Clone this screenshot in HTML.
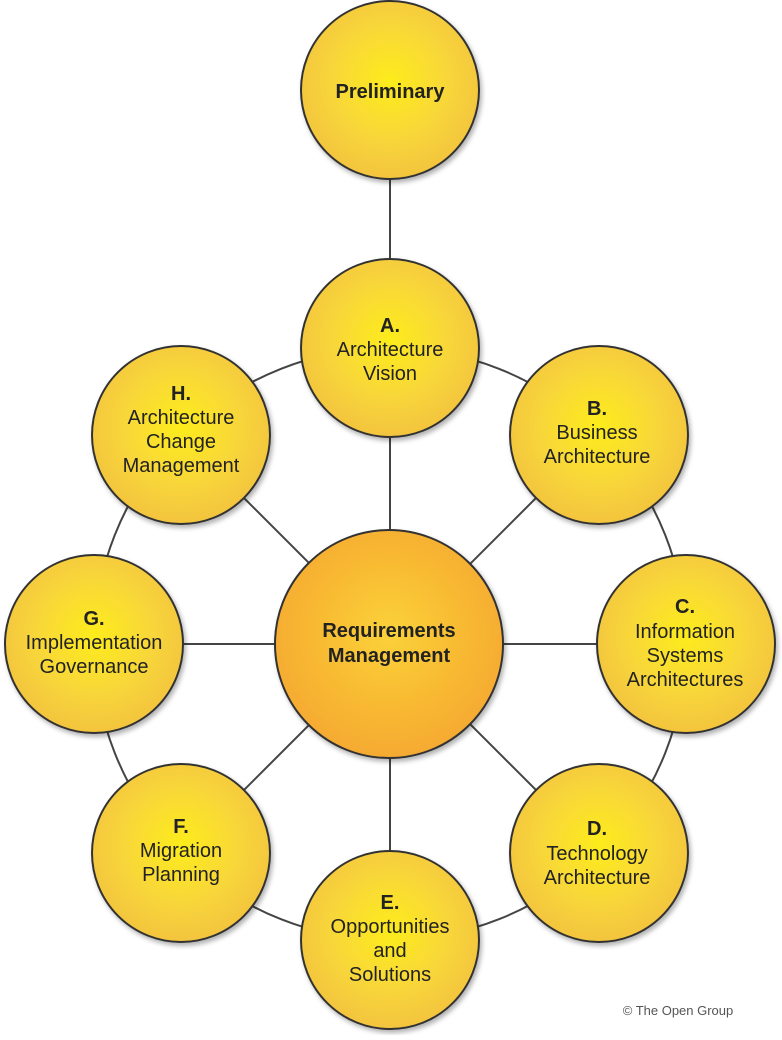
<!DOCTYPE html>
<html><head><meta charset="utf-8"><style>
body{margin:0;background:#fff;width:782px;height:1035px;overflow:hidden}
</style></head><body>
<svg width="782" height="1035" viewBox="0 0 782 1035" xmlns="http://www.w3.org/2000/svg" font-family="Liberation Sans, Arial, sans-serif">
<defs>
<radialGradient id="y" cx="50%" cy="45%" r="55%">
<stop offset="0" stop-color="#fdec1c"/><stop offset="0.6" stop-color="#f8d63a"/><stop offset="1" stop-color="#f3c43e"/>
</radialGradient>
<radialGradient id="o" cx="50%" cy="45%" r="55%">
<stop offset="0" stop-color="#fbd23a"/><stop offset="0.6" stop-color="#f8b932"/><stop offset="1" stop-color="#f5aa30"/>
</radialGradient>
<filter id="s" x="-10%" y="-10%" width="125%" height="125%"><feDropShadow dx="2" dy="3" stdDeviation="2.5" flood-color="#000" flood-opacity="0.3"/></filter>
</defs>
<g stroke="#444" stroke-width="2" fill="none">
<circle cx="390" cy="644" r="296"/>
<line x1="390" y1="90" x2="390" y2="644"/>
<line x1="390" y1="644" x2="390" y2="940"/>
<line x1="94" y1="644" x2="686" y2="644"/>
<line x1="181" y1="435" x2="599" y2="853"/>
<line x1="599" y1="435" x2="181" y2="853"/>
</g>
<g stroke="#333" stroke-width="2" fill="url(#y)" filter="url(#s)">
<circle cx="390" cy="90" r="89"/>
<circle cx="390" cy="348" r="89"/>
<circle cx="599" cy="435" r="89"/>
<circle cx="686" cy="644" r="89"/>
<circle cx="599" cy="853" r="89"/>
<circle cx="390" cy="940" r="89"/>
<circle cx="181" cy="853" r="89"/>
<circle cx="94" cy="644" r="89"/>
<circle cx="181" cy="435" r="89"/>
<circle cx="389" cy="644" r="114" fill="url(#o)"/>
</g>
<g fill="#222" font-size="20" text-anchor="middle">
<text x="390" y="98" font-weight="bold">Preliminary</text>
<text x="390" y="332" font-weight="bold">A.</text><text x="390" y="356">Architecture</text><text x="390" y="380">Vision</text>
<text x="597" y="415" font-weight="bold">B.</text><text x="597" y="439">Business</text><text x="597" y="463">Architecture</text>
<text x="685" y="613" font-weight="bold">C.</text><text x="685" y="638">Information</text><text x="685" y="662">Systems</text><text x="685" y="686">Architectures</text>
<text x="597" y="835" font-weight="bold">D.</text><text x="597" y="860">Technology</text><text x="597" y="884">Architecture</text>
<text x="390" y="909" font-weight="bold">E.</text><text x="390" y="933">Opportunities</text><text x="390" y="957">and</text><text x="390" y="981">Solutions</text>
<text x="181" y="833" font-weight="bold">F.</text><text x="181" y="857">Migration</text><text x="181" y="881">Planning</text>
<text x="94" y="625" font-weight="bold">G.</text><text x="94" y="649">Implementation</text><text x="94" y="673">Governance</text>
<text x="181" y="400" font-weight="bold">H.</text><text x="181" y="424">Architecture</text><text x="181" y="448">Change</text><text x="181" y="472">Management</text>
<text x="389" y="637" font-weight="bold">Requirements</text><text x="389" y="662" font-weight="bold">Management</text>
</g>
<text x="678" y="1015" font-size="13" fill="#555" text-anchor="middle">© The Open Group</text>
</svg>
</body></html>
